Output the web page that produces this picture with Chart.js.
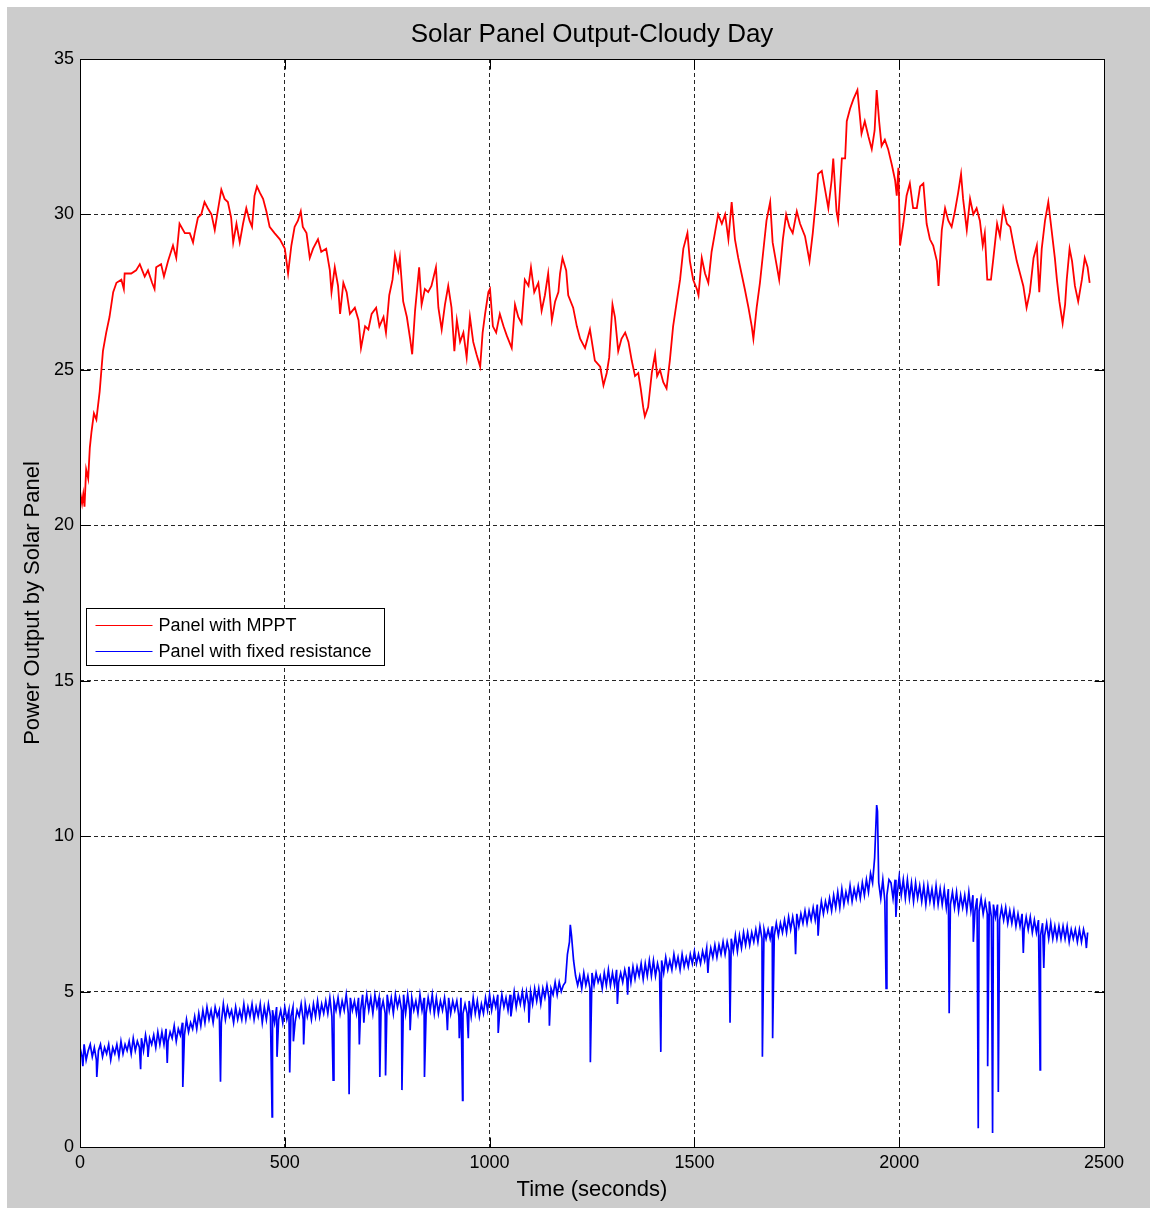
<!DOCTYPE html>
<html>
<head>
<meta charset="utf-8">
<title>Solar Panel Output-Cloudy Day</title>
<script src="https://cdn.jsdelivr.net/npm/chart.js@4.4.1/dist/chart.umd.min.js"></script>
<style>
  html, body { margin: 0; padding: 0; background: #ffffff; }
  #figure { position: absolute; left: 7px; top: 7px; width: 1143px; height: 1201px; background: #cccccc; }
  canvas { display: block; }
</style>
</head>
<body>
<div id="figure"><canvas id="plot" width="1143" height="1201"></canvas></div>
<script>
// Axis ticks
const timeTicks = [0, 500, 1000, 1500, 2000, 2500];
const powerTicks = [0, 5, 10, 15, 20, 25, 30, 35];

// Series names and colours
const seriesNames = ['Panel with MPPT', 'Panel with fixed resistance'];
const seriesColors = ['#ff0000', '#0000ff'];

// Panel with MPPT: [time (s), power]
const mpptReadings = [
  [0,21.1],[5,20.7],[8,21.0],[11,20.6],[15,21.8],[20,21.5],[24,22.5],[28,23.0],[34,23.6],[40,23.4],
  [48,24.3],[56,25.6],[64,26.2],[72,26.7],[81,27.5],[89,27.8],[101,27.9],[107,27.6],[109,28.1],[125,28.1],
  [137,28.2],[146,28.4],[158,28.0],[166,28.2],[176,27.8],[182,27.6],[186,28.3],[198,28.4],[205,28.0],[215,28.5],
  [227,29.0],[235,28.6],[243,29.7],[256,29.4],[268,29.4],[276,29.1],[280,29.4],[288,29.9],[296,30.0],[304,30.4],
  [312,30.2],[321,30.0],[329,29.5],[335,30.0],[345,30.8],[353,30.5],[361,30.4],[369,29.9],[374,29.1],[382,29.7],
  [390,29.1],[398,29.7],[406,30.2],[414,29.8],[420,29.6],[426,30.6],[432,30.9],[439,30.7],[447,30.5],[455,30.1],
  [463,29.6],[475,29.4],[488,29.2],[500,28.9],[508,28.1],[516,29.0],[524,29.6],[532,29.8],[539,30.1],[544,29.6],
  [553,29.4],[561,28.6],[569,28.9],[581,29.2],[589,28.8],[601,28.9],[610,28.2],[614,27.5],[622,28.3],[630,27.7],
  [635,26.8],[643,27.8],[651,27.5],[659,26.8],[671,27.0],[680,26.6],[686,25.7],[696,26.4],[704,26.3],[712,26.8],
  [723,27.0],[731,26.4],[741,26.7],[747,26.2],[755,27.4],[763,27.9],[769,28.7],[777,28.2],[781,28.6],[789,27.2],
  [798,26.7],[806,26.0],[811,25.5],[818,26.9],[828,28.3],[834,27.1],[842,27.6],[850,27.5],[858,27.7],[869,28.3],
  [875,27.0],[883,26.3],[891,27.1],[899,27.7],[907,27.0],[914,25.6],[920,26.6],[928,25.9],[936,26.2],[944,25.4],
  [952,26.7],[960,25.9],[968,25.5],[977,25.1],[983,26.2],[989,26.8],[997,27.5],[1001,27.6],[1008,26.4],[1016,26.2],
  [1025,26.8],[1034,26.4],[1042,26.1],[1054,25.7],[1062,27.1],[1070,26.7],[1078,26.5],[1086,27.9],[1095,27.7],[1101,28.3],
  [1109,27.5],[1119,27.8],[1127,26.9],[1135,27.4],[1143,28.1],[1152,26.6],[1160,27.2],[1168,27.5],[1172,28.1],[1178,28.6],
  [1187,28.2],[1192,27.4],[1204,27.0],[1213,26.4],[1221,26.0],[1233,25.7],[1245,26.3],[1257,25.3],[1270,25.1],[1278,24.5],
  [1286,24.9],[1292,25.4],[1300,27.1],[1306,26.7],[1314,25.6],[1322,26.0],[1331,26.2],[1339,25.9],[1347,25.3],[1355,24.8],
  [1363,24.9],[1369,24.4],[1375,23.8],[1379,23.5],[1387,23.8],[1396,24.9],[1404,25.5],[1409,24.8],[1416,25.0],[1424,24.6],
  [1432,24.4],[1440,25.3],[1448,26.4],[1457,27.2],[1465,27.9],[1473,28.9],[1483,29.4],[1489,28.5],[1497,27.9],[1506,27.6],
  [1510,27.4],[1518,28.6],[1526,28.1],[1534,27.8],[1542,28.8],[1550,29.4],[1558,30.0],[1567,29.7],[1575,30.0],[1583,29.2],
  [1591,30.4],[1599,29.2],[1607,28.6],[1615,28.1],[1623,27.6],[1632,27.0],[1640,26.4],[1644,26.0],[1652,27.0],[1660,27.8],
  [1668,28.8],[1676,29.8],[1685,30.4],[1691,29.1],[1699,28.5],[1707,27.9],[1716,29.2],[1724,30.0],[1732,29.6],[1740,29.4],
  [1750,30.1],[1758,29.7],[1770,29.3],[1781,28.5],[1789,29.4],[1797,30.5],[1802,31.3],[1811,31.4],[1819,30.8],[1827,30.2],
  [1835,31.1],[1839,31.8],[1847,30.1],[1851,29.8],[1860,31.8],[1868,31.8],[1872,33.0],[1880,33.4],[1888,33.7],[1898,34.0],
  [1903,33.3],[1908,32.6],[1916,33.0],[1925,32.5],[1933,32.1],[1940,32.7],[1945,34.0],[1951,33.0],[1957,32.2],[1965,32.4],
  [1973,32.1],[1982,31.6],[1990,31.1],[1994,30.6],[1998,31.5],[2002,29.0],[2010,29.7],[2018,30.6],[2026,31.0],[2034,30.2],
  [2043,30.2],[2051,30.9],[2059,31.0],[2067,29.7],[2075,29.2],[2083,29.0],[2092,28.5],[2096,27.7],[2104,29.5],[2112,30.2],
  [2120,29.8],[2128,29.6],[2136,30.1],[2144,30.7],[2151,31.3],[2156,30.5],[2165,29.5],[2173,30.5],[2181,30.0],[2189,30.2],
  [2197,29.8],[2204,29.0],[2209,29.4],[2215,27.9],[2224,27.9],[2230,28.6],[2239,29.7],[2246,29.3],[2254,30.2],[2263,29.7],
  [2271,29.6],[2278,29.1],[2287,28.5],[2295,28.1],[2303,27.7],[2311,27.0],[2319,27.5],[2328,28.6],[2336,29.0],[2342,27.5],
  [2348,28.9],[2356,29.8],[2364,30.4],[2372,29.5],[2380,28.6],[2385,27.9],[2391,27.2],[2399,26.5],[2405,27.1],[2409,27.9],
  [2416,28.9],[2422,28.5],[2429,27.7],[2437,27.2],[2446,27.9],[2453,28.6],[2460,28.3],[2465,27.8]
];

// Panel with fixed resistance: readings every 5 s starting at t = 0 (one row per 100 s)
const fixedSampleStep = 5;
const fixedReadings = [
  3.2,2.9,3.3,2.8,3.1,3.3,2.9,3.2,2.8,3.1,3.3,2.9,3.2,3.0,3.3,2.8,3.2,3.0,3.3,2.9,
  3.4,3.0,3.3,3.1,3.4,3.0,3.5,3.1,3.4,3.2,3.5,3.1,3.6,3.2,3.5,3.3,3.6,3.2,3.7,3.3,
  3.7,3.3,3.8,3.4,3.7,3.5,3.9,3.4,3.8,3.6,4.0,3.6,4.1,3.7,4.0,3.8,4.2,3.8,4.3,3.9,
  4.4,4.0,4.5,4.1,4.4,4.0,4.5,4.2,4.4,4.0,4.6,4.1,4.5,4.2,4.4,4.0,4.5,4.1,4.4,4.1,
  4.6,4.1,4.5,4.2,4.6,4.1,4.5,4.2,4.6,4.0,4.5,4.1,4.6,4.2,4.4,4.0,4.5,4.1,4.4,4.0,
  4.5,4.1,4.4,4.2,4.5,4.0,4.4,4.2,4.6,4.1,4.6,4.2,4.5,4.1,4.6,4.2,4.7,4.2,4.6,4.3,
  4.7,4.3,4.8,4.2,4.7,4.4,4.8,4.3,4.7,4.4,4.9,4.3,4.8,4.4,4.7,4.3,4.8,4.4,4.9,4.4,
  4.9,4.4,4.8,4.3,4.9,4.5,4.8,4.4,4.7,4.3,4.9,4.4,4.8,4.3,4.9,4.5,4.8,4.4,4.9,4.3,
  4.9,4.4,4.8,4.4,4.7,4.3,4.9,4.4,4.8,4.3,4.8,4.4,4.9,4.3,4.8,4.3,4.7,4.4,4.8,4.3,
  4.8,4.3,4.7,4.4,4.7,4.2,4.8,4.3,4.6,4.3,4.7,4.2,4.8,4.3,4.7,4.2,4.6,4.3,4.8,4.4,
  4.9,4.4,4.8,4.5,4.9,4.4,4.9,4.5,4.8,4.4,4.9,4.5,5.0,4.5,4.9,4.6,5.0,4.5,5.0,4.6,
  5.0,4.6,5.1,4.7,5.1,4.6,5.1,4.8,5.2,4.8,5.1,4.9,5.3,4.9,5.3,5.0,5.2,5.3,6.2,6.6,
  6.8,6.0,5.5,5.2,5.5,5.1,5.6,5.2,5.5,5.1,5.6,5.2,5.6,5.3,5.5,5.1,5.6,5.2,5.7,5.2,
  5.6,5.2,5.7,5.3,5.6,5.3,5.7,5.4,5.8,5.3,5.8,5.4,5.8,5.5,5.9,5.4,5.9,5.5,6.0,5.5,
  6.0,5.5,5.9,5.6,6.0,5.6,6.1,5.7,6.0,5.7,6.2,5.8,6.1,5.7,6.2,5.8,6.1,5.8,6.2,5.9,
  6.3,5.9,6.2,5.9,6.3,6.0,6.4,6.0,6.4,6.1,6.5,6.1,6.5,6.2,6.6,6.2,6.6,6.3,6.7,6.3,
  6.8,6.3,6.8,6.4,6.9,6.5,6.9,6.5,6.9,6.6,7.0,6.6,7.1,6.7,7.0,6.7,7.0,6.7,7.1,6.8,
  7.2,6.8,7.2,6.9,7.3,6.9,7.4,7.0,7.4,7.0,7.5,7.1,7.5,7.2,7.6,7.2,7.6,7.3,7.7,7.3,
  7.8,7.4,7.9,7.5,7.9,7.6,8.0,7.6,8.1,7.7,8.2,7.7,8.3,7.8,8.2,7.9,8.4,7.9,8.3,8.0,
  8.4,8.0,8.5,8.1,8.6,8.2,8.8,8.5,9.3,11.0,8.5,8.0,8.6,7.9,8.1,8.6,8.5,8.0,8.6,8.1,
  8.7,8.1,8.6,8.0,8.6,8.0,8.5,7.9,8.5,8.0,8.4,7.9,8.4,7.8,8.4,7.9,8.3,7.8,8.4,7.8,
  8.3,7.8,8.3,7.7,8.3,7.8,8.2,7.7,8.2,7.6,8.1,7.7,8.1,7.6,8.2,7.6,8.1,7.6,8.0,7.6,
  8.0,7.5,7.9,7.5,7.9,7.4,7.8,7.4,7.8,7.3,7.7,7.3,7.7,7.2,7.6,7.2,7.6,7.1,7.5,7.1,
  7.5,7.0,7.4,7.0,7.4,6.9,7.3,6.9,7.3,6.8,7.2,6.8,7.2,6.7,7.2,6.7,7.1,6.7,7.1,6.7,
  7.1,6.7,7.1,6.6,7.0,6.7,7.0,6.6,7.0,6.6,7.0,6.7,6.9
];

// Panel with fixed resistance: short dropouts and surges between the regular readings [time (s), power]
const fixedSpikes = [
  [7,2.6],[41,2.25],[148,2.5],[166,2.9],[213,2.7],[251,1.93],[343,2.1],[469,0.97],[481,2.9],[512,2.4],
  [521,3.4],[546,3.3],[618,2.15],[657,1.7],[682,3.3],[693,4.0],[732,2.25],[746,2.3],[786,1.83],[806,3.76],
  [841,2.25],[897,3.76],[926,3.5],[934,1.5],[948,3.5],[1021,3.67],[1052,4.2],[1096,4.0],[1146,3.9],[1197,7.15],
  [1246,2.73],[1312,4.6],[1337,4.9],[1418,3.06],[1533,5.6],[1587,4.0],[1666,2.9],[1691,3.5],[1747,6.2],[1802,6.8],
  [1947,10.8],[1968,5.1],[1992,7.4],[2122,4.3],[2181,6.6],[2193,0.6],[2216,2.6],[2228,0.45],[2242,1.77],[2303,6.24],
  [2344,2.48],[2353,5.76],[2457,6.4]
];

const FONT = "'Liberation Sans', Arial, Helvetica, sans-serif";

const mpptPoints = mpptReadings.map(([t, p]) => ({ x: t, y: p }));
const fixedPoints = fixedReadings
  .map((p, i) => ({ x: i * fixedSampleStep, y: p }))
  .concat(fixedSpikes.map(([t, p]) => ({ x: t, y: p })))
  .sort((a, b) => a.x - b.x);

// White axes background, axes box with inward tick marks, and the legend box
const framePlugin = {
  id: 'frame',
  beforeDraw(chart) {
    const { ctx, chartArea: a } = chart;
    ctx.save();
    ctx.fillStyle = '#ffffff';
    ctx.fillRect(a.left, a.top, a.right - a.left, a.bottom - a.top);
    ctx.restore();
  },
  afterDatasetsDraw(chart) {
    const { ctx, chartArea: a, scales } = chart;
    const xs = scales.x, ys = scales.y;
    const L = a.left + 0.5, R = a.right + 0.5, T = a.top + 0.5, B = a.bottom + 0.5;
    const tickLen = 10;
    ctx.save();
    ctx.strokeStyle = '#000000';
    ctx.lineWidth = 1;
    ctx.setLineDash([]);
    ctx.beginPath();
    timeTicks.forEach(v => {
      const px = Math.round(xs.getPixelForValue(v)) + 0.5;
      ctx.moveTo(px, B); ctx.lineTo(px, B - tickLen);
      ctx.moveTo(px, T); ctx.lineTo(px, T + tickLen);
    });
    powerTicks.forEach(v => {
      const py = Math.round(ys.getPixelForValue(v)) + 0.5;
      ctx.moveTo(L, py); ctx.lineTo(L + tickLen, py);
      ctx.moveTo(R, py); ctx.lineTo(R - tickLen, py);
    });
    ctx.stroke();
    ctx.strokeRect(L, T, R - L, B - T);
    ctx.restore();
  },
  afterDraw(chart) {
    const { ctx, chartArea: a } = chart;
    const bx = a.left + 6.5, by = a.top + 549.5, bw = 298, bh = 57;
    ctx.save();
    ctx.fillStyle = '#ffffff';
    ctx.fillRect(bx, by, bw, bh);
    ctx.strokeStyle = '#000000';
    ctx.lineWidth = 1;
    ctx.strokeRect(bx, by, bw, bh);
    ctx.font = '18px ' + FONT;
    ctx.textBaseline = 'middle';
    ctx.textAlign = 'left';
    seriesNames.forEach((name, i) => {
      const ly = Math.round(by + 16 + i * 26.5) + 0.5;
      ctx.strokeStyle = seriesColors[i];
      ctx.beginPath();
      ctx.moveTo(bx + 9, ly);
      ctx.lineTo(bx + 66, ly);
      ctx.stroke();
      ctx.fillStyle = '#000000';
      ctx.fillText(name, bx + 72, ly + 1);
    });
    ctx.restore();
  }
};

new Chart(document.getElementById('plot'), {
  type: 'line',
  data: {
    datasets: [
      { label: seriesNames[0], data: mpptPoints, borderColor: seriesColors[0], borderWidth: 1.8,
        pointRadius: 0, tension: 0, fill: false },
      { label: seriesNames[1], data: fixedPoints, borderColor: seriesColors[1], borderWidth: 1.7,
        pointRadius: 0, tension: 0, fill: false }
    ]
  },
  options: {
    responsive: false,
    animation: false,
    events: [],
    layout: { padding: { left: 0, right: 46, top: 0, bottom: 0 } },
    plugins: {
      legend: { display: false },
      tooltip: { enabled: false },
      title: {
        display: true,
        fullSize: false,
        text: 'Solar Panel Output-Cloudy Day',
        color: '#000000',
        font: { family: FONT, size: 26, weight: 'normal' },
        padding: { top: 12.4, bottom: 8.4 }
      }
    },
    scales: {
      x: {
        type: 'linear',
        min: 0, max: 2500,
        afterBuildTicks(scale) { scale.ticks = timeTicks.map(v => ({ value: v })); },
        afterFit(scale) { scale.height = 61; },
        ticks: { color: '#000000', font: { family: FONT, size: 18 }, padding: 5, maxRotation: 0,
                 autoSkip: false, callback: v => String(v) },
        grid: { color: '#262626', lineWidth: 1, drawTicks: false },
        border: { display: false, dash: [4, 3] },
        title: { display: true, text: 'Time (seconds)', color: '#000000',
                 font: { family: FONT, size: 22, weight: 'normal' }, padding: { top: 0, bottom: 5 } }
      },
      y: {
        type: 'linear',
        min: 0, max: 35,
        afterBuildTicks(scale) { scale.ticks = powerTicks.map(v => ({ value: v })); },
        afterFit(scale) { scale.width = 73; },
        ticks: { color: '#000000', font: { family: FONT, size: 18 }, padding: 6, autoSkip: false,
                 callback: v => String(v) },
        grid: { color: '#262626', lineWidth: 1, drawTicks: false },
        border: { display: false, dash: [4, 3] },
        title: { display: true, text: 'Power Output by Solar Panel', color: '#000000',
                 font: { family: FONT, size: 22, weight: 'normal' }, padding: { top: 13, bottom: 0 } }
      }
    }
  },
  plugins: [framePlugin]
});
</script>
</body>
</html>
